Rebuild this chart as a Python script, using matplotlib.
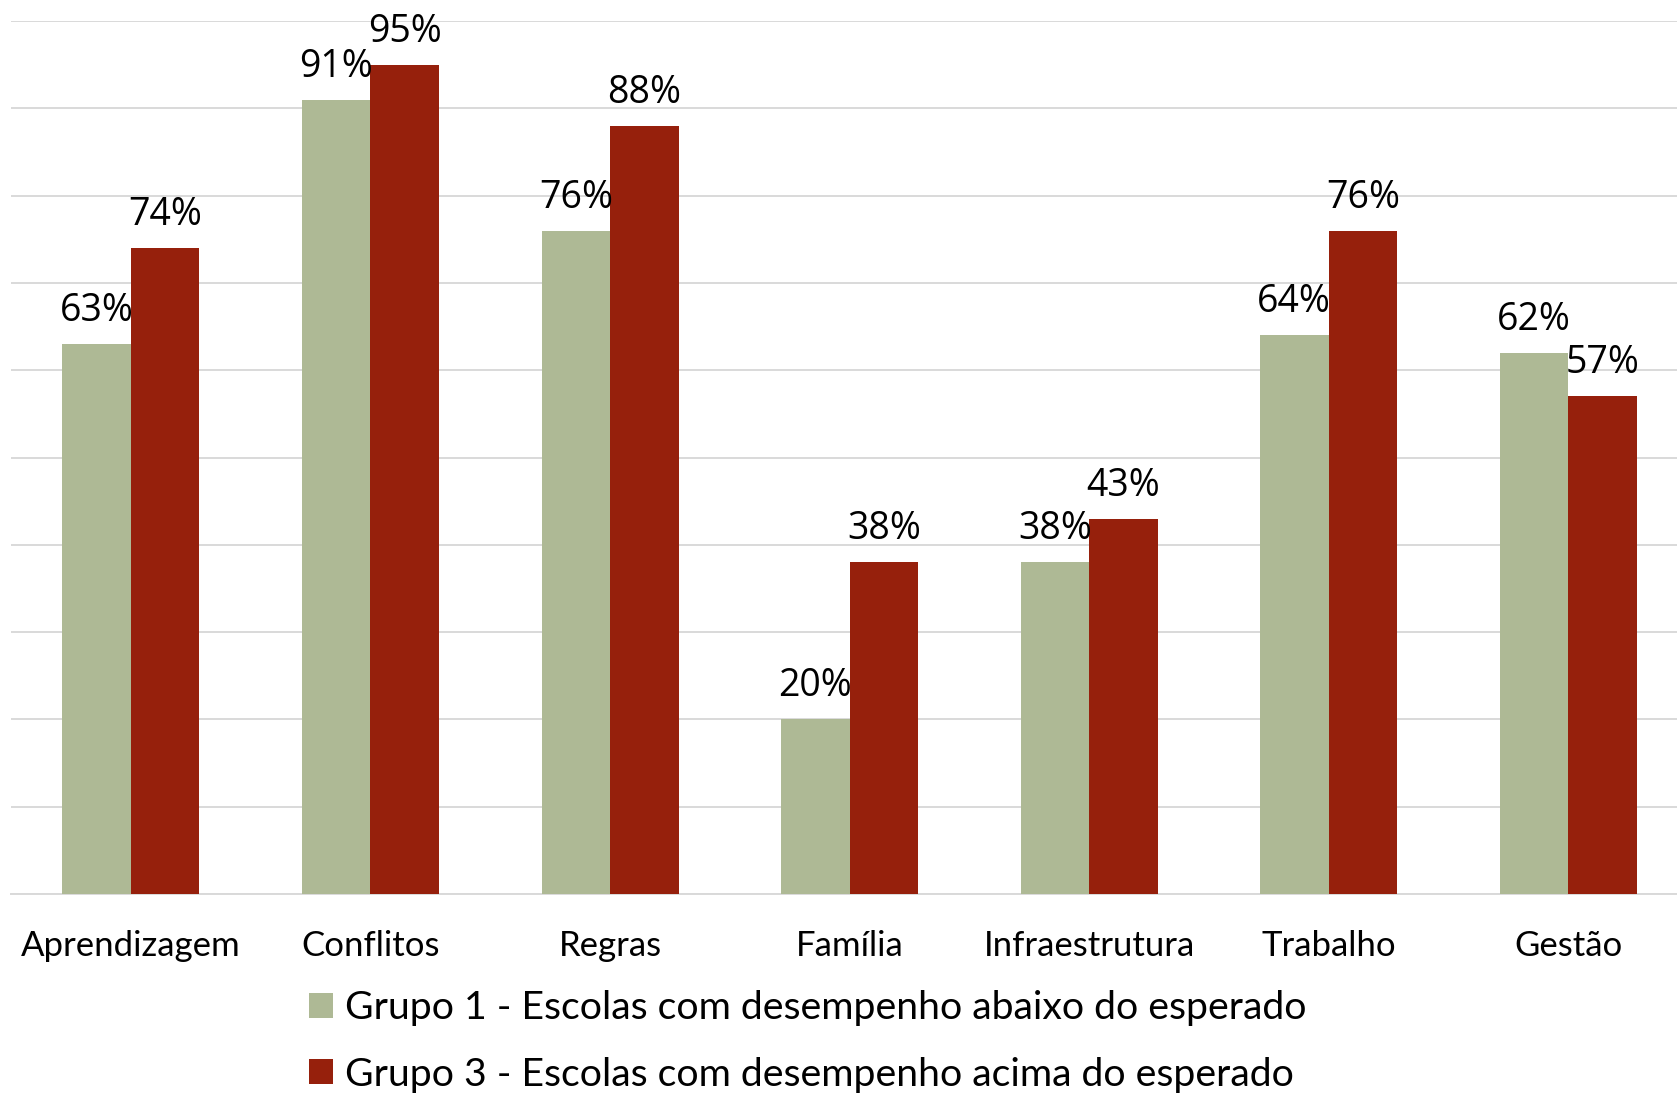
import numpy as np
import matplotlib
matplotlib.use("Agg")
import matplotlib.pyplot as plt

plt.rcParams['font.family'] = ['Lato', 'DejaVu Sans']

categorias = ['Aprendizagem', 'Conflitos', 'Regras', 'Família',
              'Infraestrutura', 'Trabalho', 'Gestão']
grupo1 = [63, 91, 76, 20, 38, 64, 62]
grupo3 = [74, 95, 88, 38, 43, 76, 57]
nome_g1 = 'Grupo 1 - Escolas com desempenho abaixo do esperado'
nome_g3 = 'Grupo 3 - Escolas com desempenho acima do esperado'

cor_g1 = '#AEB995'
cor_g3 = '#96200C'

W, H = 1677, 1095
fig = plt.figure(figsize=(W / 100, H / 100), dpi=100)
ax = fig.add_axes([11 / W, 1 - 894 / H, 1 - 11 / W, (894 - 21) / H])

x = np.arange(len(categorias))
larg = 0.286
b1 = ax.bar(x - larg / 2, grupo1, larg, color=cor_g1, label=nome_g1, zorder=3)
b3 = ax.bar(x + larg / 2, grupo3, larg, color=cor_g3, label=nome_g3, zorder=3)

# rótulos de valor acima das barras
for barras, vals in ((b1, grupo1), (b3, grupo3)):
    for r, v in zip(barras, vals):
        ax.annotate(f'{v}%', (r.get_x() + r.get_width() / 2, v),
                    xytext=(0, 16.5), textcoords='offset points',
                    ha='center', va='baseline', fontsize=27,
                    family=['Open Sans', 'DejaVu Sans'], color='black',
                    annotation_clip=False, zorder=5)

ax.set_xlim(-0.501, 6.455)
ax.set_ylim(0, 100)
ax.set_yticks(np.arange(0, 101, 10))
ax.yaxis.grid(True, color='#D9D9D9', linewidth=1.4, zorder=0)
ax.set_axisbelow(True)
ax.tick_params(axis='y', left=False, labelleft=False)
ax.set_xticks(x)
ax.set_xticklabels(categorias, fontsize=25)
ax.tick_params(axis='x', length=0, pad=26)
for s in ['top', 'right', 'left']:
    ax.spines[s].set_visible(False)
ax.spines['bottom'].set_color('#D9D9D9')
ax.spines['bottom'].set_linewidth(1.4)

fig.legend(handles=[b1, b3], loc='upper left',
           bbox_to_anchor=(309 / W, 1 - 990 / H), frameon=False,
           fontsize=28.3, handlelength=0.61, handleheight=0.61,
           handletextpad=0.3, labelspacing=0.78, borderpad=0,
           borderaxespad=0)

fig.savefig('out.png', dpi=100)
